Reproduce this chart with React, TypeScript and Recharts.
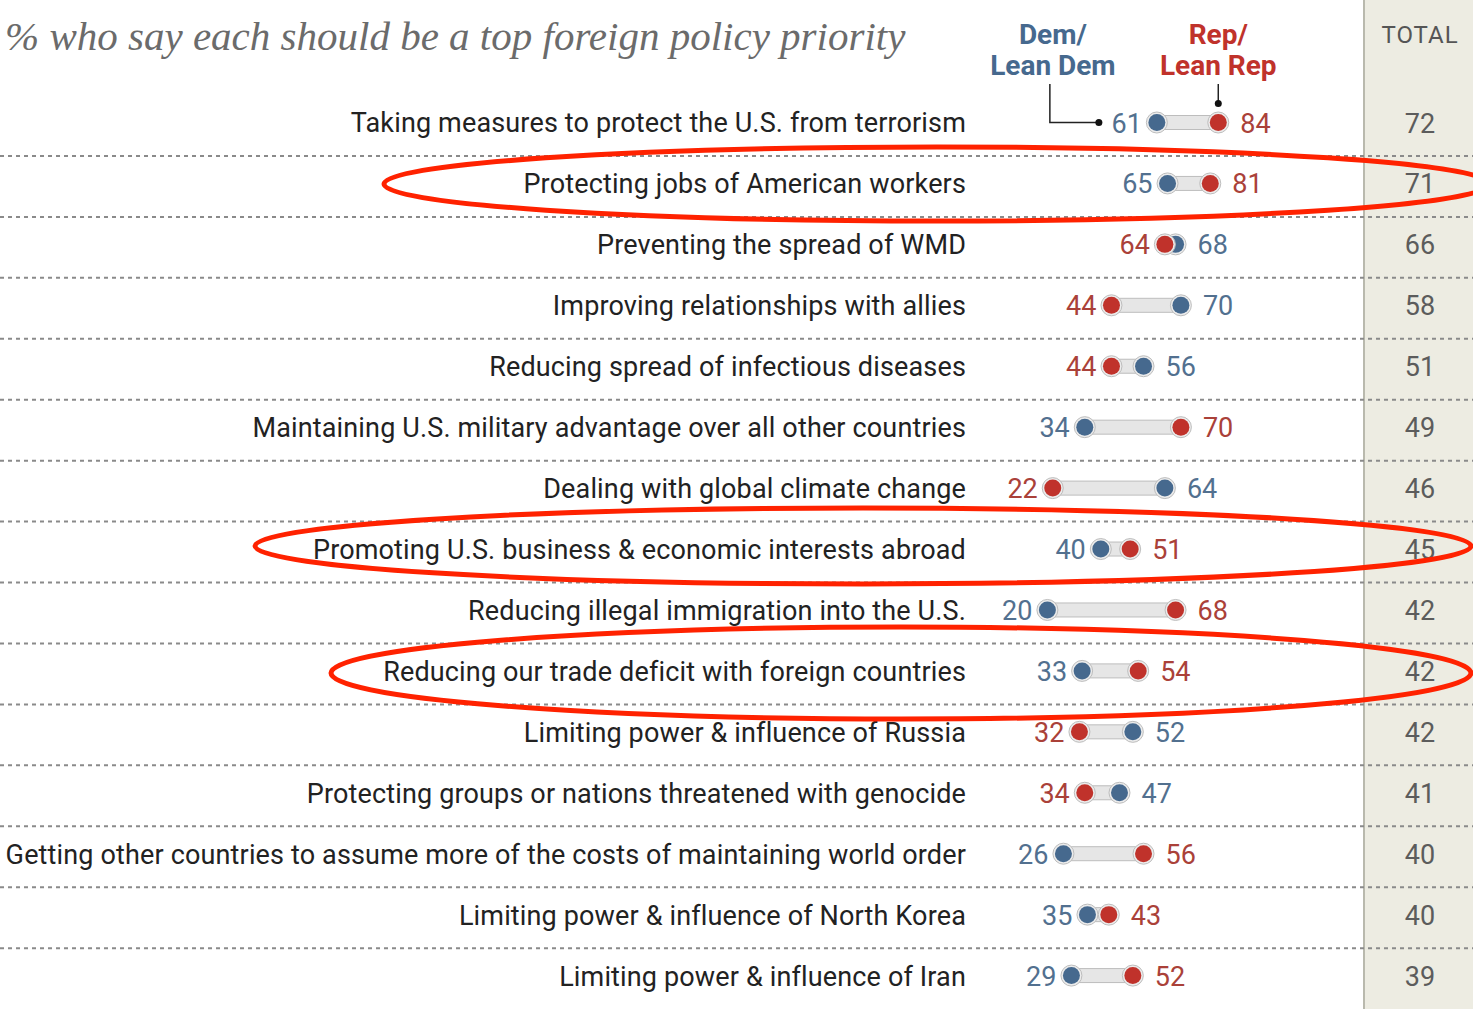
import React from "react";
import { ComposedChart, Bar, XAxis, YAxis } from "recharts";

const categories = [
  "Taking measures to protect the U.S. from terrorism",
  "Protecting jobs of American workers",
  "Preventing the spread of WMD",
  "Improving relationships with allies",
  "Reducing spread of infectious diseases",
  "Maintaining U.S. military advantage over all other countries",
  "Dealing with global climate change",
  "Promoting U.S. business & economic interests abroad",
  "Reducing illegal immigration into the U.S.",
  "Reducing our trade deficit with foreign countries",
  "Limiting power & influence of Russia",
  "Protecting groups or nations threatened with genocide",
  "Getting other countries to assume more of the costs of maintaining world order",
  "Limiting power & influence of North Korea",
  "Limiting power & influence of Iran",
];
const demValues = [61, 65, 68, 70, 56, 34, 64, 40, 20, 33, 52, 47, 26, 35, 29];
const repValues = [84, 81, 64, 44, 44, 70, 22, 51, 68, 54, 32, 34, 56, 43, 52];
const totals = [72, 71, 66, 58, 51, 49, 46, 45, 42, 42, 42, 41, 40, 40, 39];

const data = categories.map((label, i) => ({
  label,
  dem: demValues[i],
  rep: repValues[i],
  total: totals[i],
  range: [Math.min(demValues[i], repValues[i]), Math.max(demValues[i], repValues[i])],
}));

const W = 1473;
const H = 1009;
const DEM = "#46698e";
const REP = "#c0322b";
const DEM_TEXT = "#52708f";
const REP_TEXT = "#aa4139";
const SANS = "Roboto, 'Liberation Sans', sans-serif";
const TOTAL_X = 1420;

function Dot({ cx, cy, color }: { cx: number; cy: number; color: string }) {
  return (
    <g>
      <circle cx={cx} cy={cy} r={10.5} fill="#ececec" stroke="#bdbdbd" strokeWidth={1} />
      <circle cx={cx} cy={cy} r={8.5} fill={color} />
    </g>
  );
}

function Dumbbell(props: any) {
  const { x, y, width, height, index, payload } = props;
  const cy = y + height / 2 - 3;
  const minX = x;
  const maxX = x + width;
  const demX = payload.dem <= payload.rep ? minX : maxX;
  const repX = payload.dem <= payload.rep ? maxX : minX;
  const demLeft = demX <= repX;
  const isLast = index === data.length - 1;
  return (
    <g>
      {!isLast && (
        <line x1={0} x2={W} y1={y + height} y2={y + height} stroke="#8a8a8a" strokeWidth={2} strokeDasharray="4 4" />
      )}
      <rect x={minX} y={cy - 7} width={maxX - minX} height={14} fill="#e6e6e6" stroke="#bdbdbd" strokeWidth={1} />
      <Dot cx={demX} cy={cy} color={DEM} />
      <Dot cx={repX} cy={cy} color={REP} />
      <text
        x={demLeft ? minX - 15 : maxX + 22}
        y={cy + 10}
        textAnchor={demLeft ? "end" : "start"}
        fontFamily={SANS}
        fontSize={27}
        fill={DEM_TEXT}
      >
        {payload.dem}
      </text>
      <text
        x={demLeft ? maxX + 22 : minX - 15}
        y={cy + 10}
        textAnchor={demLeft ? "start" : "end"}
        fontFamily={SANS}
        fontSize={27}
        fill={REP_TEXT}
      >
        {payload.rep}
      </text>
      <text x={TOTAL_X} y={cy + 10} textAnchor="middle" fontFamily={SANS} fontSize={27} fill="#5c5c5c">
        {payload.total}
      </text>
      {index === 0 && (
        <g>
          <text x={demX - 104} textAnchor="middle" fontFamily={SANS} fontWeight="bold" fontSize={28} fill={DEM}>
            <tspan x={demX - 104} y={44}>Dem/</tspan>
            <tspan x={demX - 104} y={75}>Lean Dem</tspan>
          </text>
          <text x={repX} textAnchor="middle" fontFamily={SANS} fontWeight="bold" fontSize={28} fill={REP}>
            <tspan x={repX} y={44}>Rep/</tspan>
            <tspan x={repX} y={75}>Lean Rep</tspan>
          </text>
          <polyline
            points={`${demX - 107},84 ${demX - 107},${cy} ${demX - 58},${cy}`}
            fill="none"
            stroke="#222"
            strokeWidth={1.5}
          />
          <circle cx={demX - 58} cy={cy} r={3.5} fill="#111" />
          <line x1={repX} x2={repX} y1={84} y2={cy - 19} stroke="#222" strokeWidth={1.5} />
          <circle cx={repX} cy={cy - 19} r={3.5} fill="#111" />
        </g>
      )}
    </g>
  );
}

function CategoryTick(props: any) {
  const { y, payload } = props;
  return (
    <text x={966} y={y + 7} textAnchor="end" fontFamily={SANS} fontSize={27} letterSpacing={0.15} fill="#222">
      {payload.value}
    </text>
  );
}

export default function App() {
  return (
    <div style={{ position: "relative", width: W, height: H, overflow: "hidden", background: "#fff" }}>
      <style>{`body{margin:0}`}</style>
      <div
        style={{
          position: "absolute",
          left: 1363,
          top: 0,
          width: W - 1363,
          height: H,
          background: "#edece2",
          borderLeft: "2px solid #b9b9ad",
          boxSizing: "border-box",
        }}
      />
      <div style={{ position: "absolute", left: 0, top: 0 }}>
        <ComposedChart
          width={W}
          height={H}
          data={data}
          layout="vertical"
          margin={{ top: 95, right: 212, bottom: 0, left: 0 }}
          barCategoryGap={0}
        >
          <XAxis type="number" domain={[0, 100]} hide />
          <YAxis
            type="category"
            dataKey="label"
            width={994}
            axisLine={false}
            tickLine={false}
            interval={0}
            tick={<CategoryTick />}
          />
          <Bar dataKey="range" shape={<Dumbbell />} isAnimationActive={false} />
        </ComposedChart>
      </div>
      <svg width={W} height={H} style={{ position: "absolute", left: 0, top: 0, pointerEvents: "none" }}>
        <text x={5} y={50} fontFamily="'Liberation Serif', serif" fontStyle="italic" fontSize={41} fill="#6b6b6b">
          % who say each should be a top foreign policy priority
        </text>
        <text x={TOTAL_X} y={43} textAnchor="middle" fontFamily={SANS} fontSize={24} letterSpacing={1} fill="#555">
          TOTAL
        </text>
        <ellipse cx={937} cy={184} rx={553} ry={37} fill="none" stroke="#ff2200" strokeWidth={5} />
        <ellipse cx={863} cy={546} rx={608} ry={38} fill="none" stroke="#ff2200" strokeWidth={5} />
        <ellipse cx={901} cy={673} rx={570} ry={46} fill="none" stroke="#ff2200" strokeWidth={5} />
      </svg>
    </div>
  );
}
